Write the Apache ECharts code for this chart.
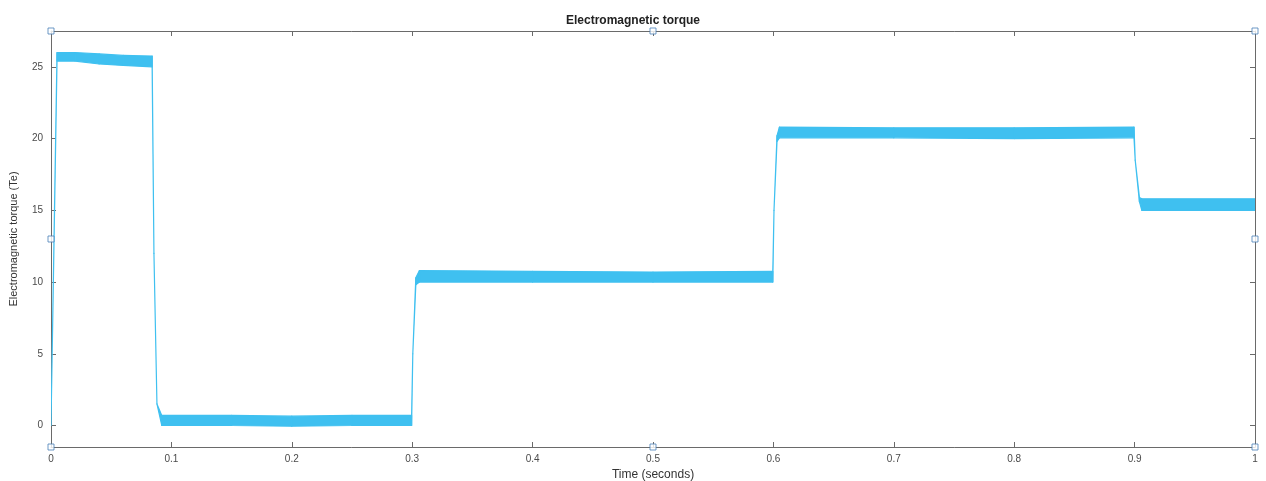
<!DOCTYPE html>
<html>
<head>
<meta charset="utf-8">
<script src="https://cdn.jsdelivr.net/npm/echarts@6/dist/echarts.min.js"></script>
<style>
html,body{margin:0;padding:0;background:#fff;}
#chart{width:1266px;height:481px;}
</style>
</head>
<body>
<div id="chart"></div>
<script>
// Time samples (s) and lower/upper envelope of the noisy torque band (Te)
const time  = [0, 0.005, 0.02, 0.04, 0.06, 0.084, 0.0855, 0.088, 0.092, 0.15, 0.2, 0.25, 0.2995, 0.3005, 0.303, 0.306, 0.4, 0.5, 0.5995, 0.6005, 0.603, 0.605, 0.7, 0.8, 0.8995, 0.9005, 0.904, 0.906, 1.0];
const lower = [0, 25.4, 25.4, 25.2, 25.1, 25.0, 12, 1.5, 0.0, 0.0, -0.05, 0.0, 0.0, 5, 9.8, 10.0, 10.0, 10.0, 10.0, 15, 19.8, 20.05, 20.05, 20.0, 20.05, 18.5, 15.6, 15.0, 15.0];
const upper = [0, 26.0, 26.0, 25.9, 25.8, 25.75, 12, 1.5, 0.7, 0.7, 0.65, 0.7, 0.7, 5, 10.3, 10.8, 10.75, 10.7, 10.75, 15, 20.2, 20.8, 20.75, 20.75, 20.8, 18.5, 15.9, 15.8, 15.8];
const xTicks = [0, 0.1, 0.2, 0.3, 0.4, 0.5, 0.6, 0.7, 0.8, 0.9, 1];
const yTicks = [0, 5, 10, 15, 20, 25];
// Scope selection handles (box corners and mid-points)
const handleX = [0, 0.5, 1, 0, 1, 0, 0.5, 1];
const handleY = [27.5, 27.5, 27.5, 13, 13, -1.5, -1.5, -1.5];

const Y_MIN = -1.5, Y_MAX = 27.5;
const lineColor = '#3fc0f0';
const axisColor = '#6a6a6a';
const labelColor = '#4a4a4a';
const FONT = 'Liberation Sans, Arial, sans-serif';

const bandData = time.map((t, i) => [t, lower[i], upper[i]]);
const handleData = handleX.map((x, i) => [x, handleY[i]]);

function renderBand(params, api) {
  const i = params.dataIndex;
  if (i === 0) return null;
  const t0 = time[i - 1], t1 = api.value(0);
  const p = [
    api.coord([t0, lower[i - 1]]),
    api.coord([t1, api.value(1)]),
    api.coord([t1, api.value(2)]),
    api.coord([t0, upper[i - 1]])
  ];
  return {
    type: 'polygon',
    shape: {points: p},
    style: {fill: lineColor, stroke: lineColor, lineWidth: 1.2, lineJoin: 'round'}
  };
}

const chart = echarts.init(document.getElementById('chart'), null, {renderer: 'canvas'});
const tickStyle = {show: true, inside: true, length: 5, lineStyle: {color: axisColor, width: 1}};
chart.setOption({
  animation: false,
  backgroundColor: '#ffffff',
  title: {
    text: 'Electromagnetic torque',
    left: 'center',
    top: 10,
    textStyle: {fontFamily: FONT, fontSize: 12, fontWeight: 'bold', color: '#222'}
  },
  grid: {left: 51, right: 11, top: 31, bottom: 34, containLabel: false, outerBoundsMode: 'none'},
  xAxis: [{
    type: 'value', min: 0, max: 1, interval: 0.1,
    name: 'Time (seconds)', nameLocation: 'middle', nameGap: 18,
    nameTextStyle: {fontFamily: FONT, fontSize: 12, color: '#333'},
    axisLine: {show: true, onZero: false, lineStyle: {color: axisColor, width: 1}},
    axisTick: tickStyle,
    axisLabel: {fontFamily: FONT, fontSize: 10, color: labelColor, margin: 7,
      formatter: v => xTicks.indexOf(+v.toFixed(1)) >= 0 ? String(+v.toFixed(1)) : ''},
    splitLine: {show: false}
  }, {
    type: 'value', min: 0, max: 1, interval: 0.1, position: 'top',
    axisLine: {show: true, onZero: false, lineStyle: {color: axisColor, width: 1}},
    axisTick: tickStyle, axisLabel: {show: false}, splitLine: {show: false}
  }],
  yAxis: [{
    type: 'value', min: Y_MIN, max: Y_MAX,
    name: 'Electromagnetic torque (Te)', nameLocation: 'middle', nameGap: 32,
    nameTextStyle: {fontFamily: FONT, fontSize: 11, color: '#333'},
    axisLine: {show: true, onZero: false, lineStyle: {color: axisColor, width: 1}},
    axisTick: Object.assign({customValues: yTicks}, tickStyle),
    axisLabel: {customValues: yTicks, fontFamily: FONT, fontSize: 10, color: labelColor, margin: 8},
    splitLine: {show: false}
  }, {
    type: 'value', min: Y_MIN, max: Y_MAX, position: 'right',
    axisLine: {show: true, onZero: false, lineStyle: {color: axisColor, width: 1}},
    axisTick: Object.assign({customValues: yTicks}, tickStyle),
    axisLabel: {show: false}, splitLine: {show: false}
  }],
  series: [{
    type: 'custom', name: 'Te',
    data: bandData,
    encode: {x: 0, y: [1, 2]},
    renderItem: renderBand,
    clip: true,
    z: 3
  }, {
    type: 'scatter', data: handleData, symbol: 'rect', symbolSize: 6,
    itemStyle: {color: '#ffffff', borderColor: '#4a80b8', borderWidth: 1},
    clip: false, z: 10, silent: true
  }]
});
</script>
</body>
</html>
